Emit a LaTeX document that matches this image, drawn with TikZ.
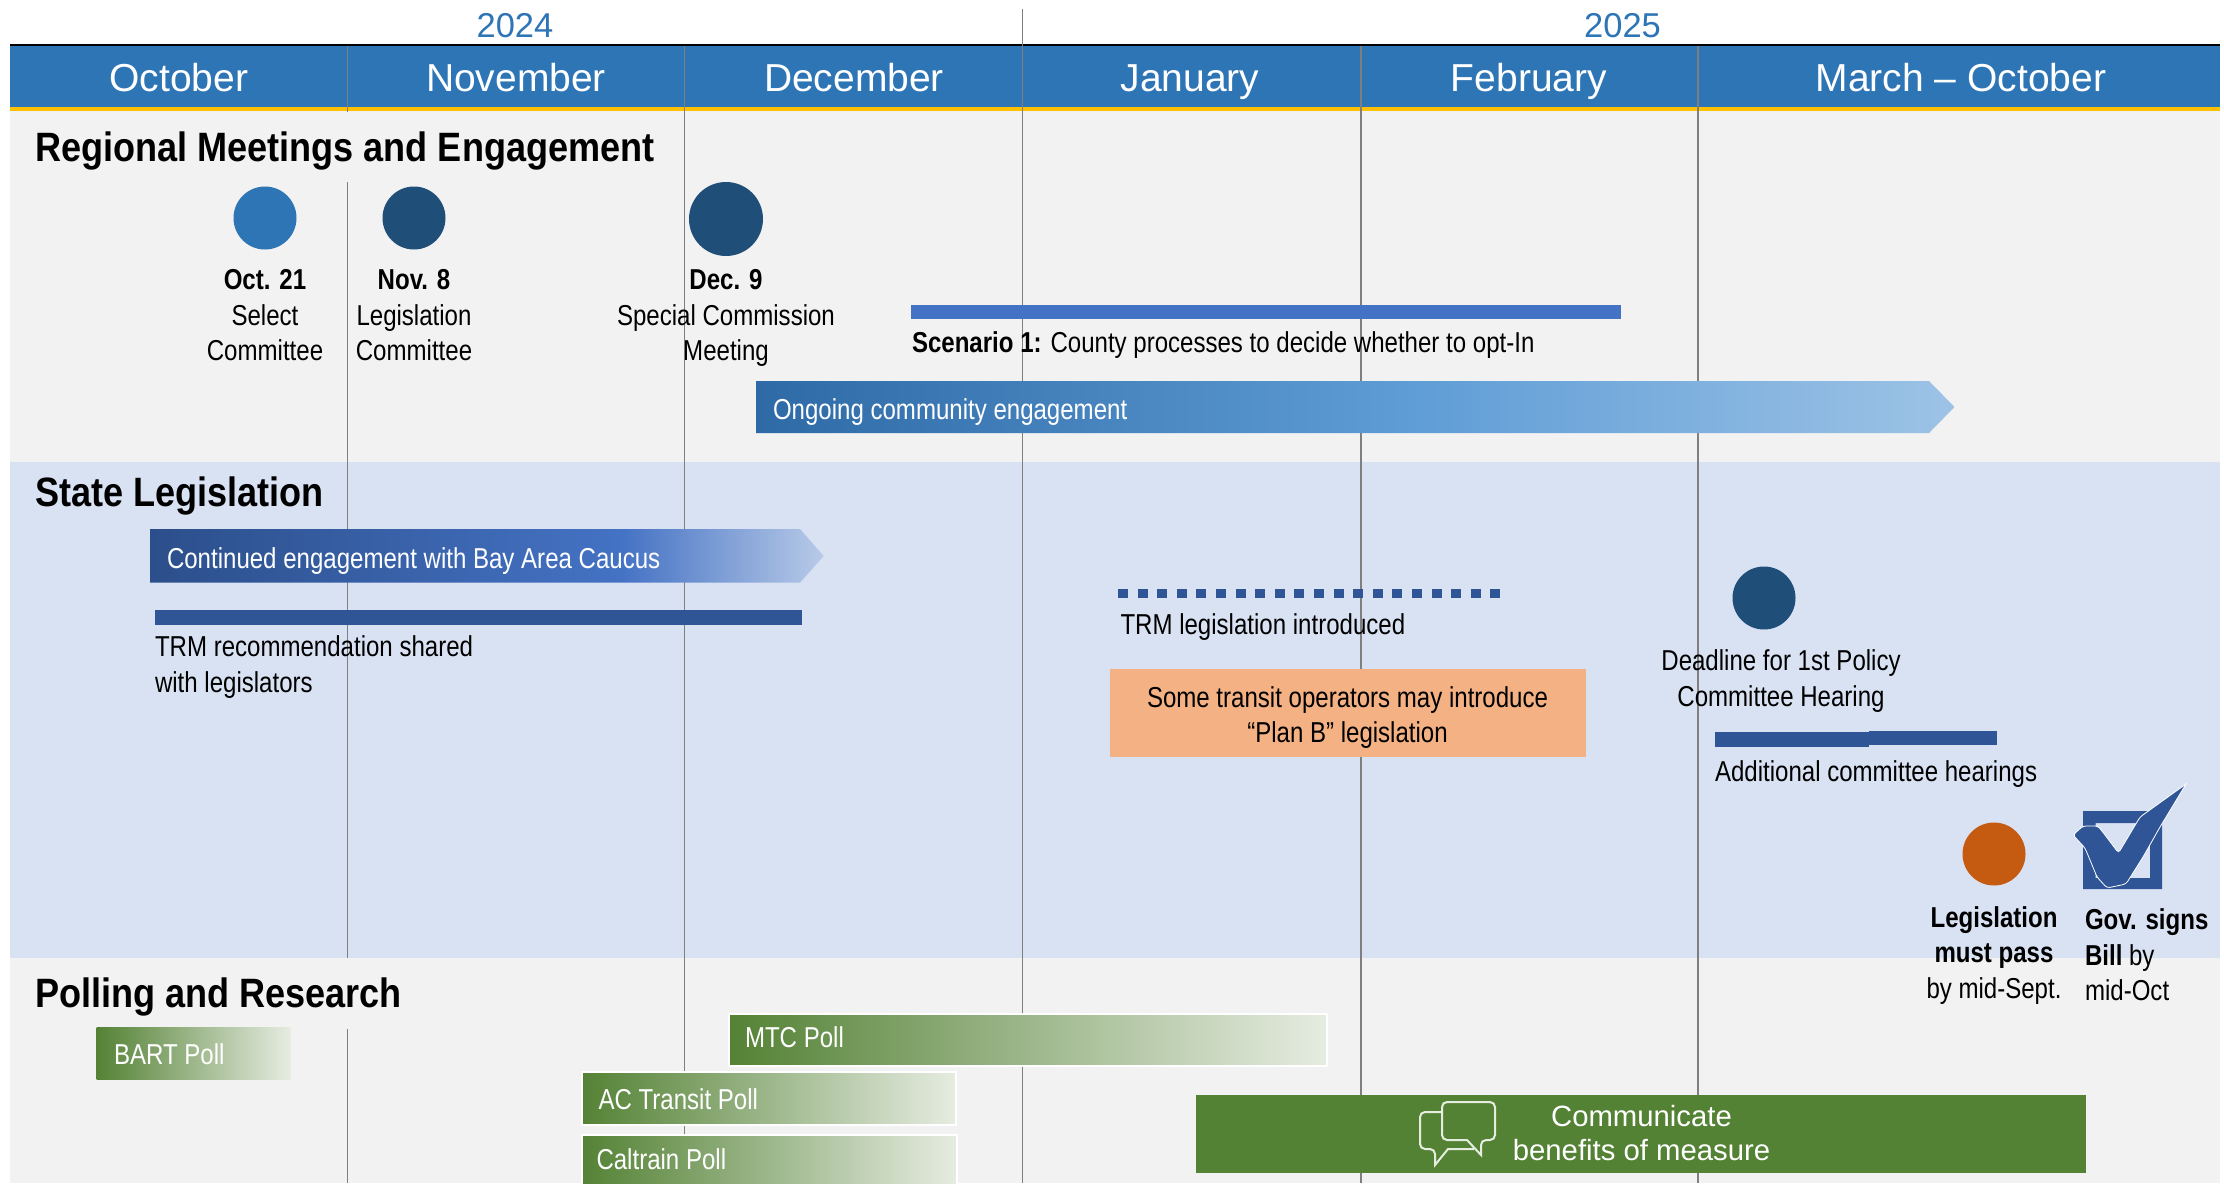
\documentclass[tikz,border=0pt]{standalone}
\usepackage{fontspec}
\setmainfont{Liberation Sans}
\newfontfamily\narrowf{Liberation Sans}[FakeStretch=0.835]
\newfontfamily\titlef{Liberation Sans}[FakeStretch=0.88]
\definecolor{panelgrey}{HTML}{F2F2F2}
\definecolor{panelblue}{HTML}{D9E2F3}
\definecolor{bandblue}{HTML}{2E75B6}
\definecolor{navy}{HTML}{1F4E79}
\definecolor{barblue}{HTML}{2F5597}
\definecolor{scenblue}{HTML}{4472C4}
\definecolor{gridgrey}{HTML}{7F7F7F}
\definecolor{peach}{HTML}{F4B183}
\definecolor{rust}{HTML}{C55A11}
\definecolor{leaf}{HTML}{548235}
\definecolor{gold}{HTML}{FFC000}
\definecolor{onA}{HTML}{2E6AA6}
\definecolor{onB}{HTML}{5F9DD6}
\definecolor{onC}{HTML}{9DC3E6}
\definecolor{caA}{HTML}{2C4F8B}
\definecolor{caB}{HTML}{4472C4}
\definecolor{caC}{HTML}{B8CAE8}
\definecolor{poB}{HTML}{E6ECE1}
\pgfdeclarehorizontalshading{ongoingshade}{100bp}{color(0bp)=(onA);color(25bp)=(onA);color(52.5bp)=(onB);color(75bp)=(onC);color(100bp)=(onC)}
\pgfdeclarehorizontalshading{caucusshade}{100bp}{color(0bp)=(caA);color(25bp)=(caA);color(60bp)=(caB);color(75bp)=(caC);color(100bp)=(caC)}
\pgfdeclarehorizontalshading{pollshade}{100bp}{color(0bp)=(leaf);color(25bp)=(leaf);color(75bp)=(poB);color(100bp)=(poB)}
\tikzset{
  x=1pt,y=-1pt,
  every node/.style={inner sep=0pt,outer sep=0pt},
  month/.style={anchor=base,text=white,font=\fontsize{39}{44}\selectfont},
  yearlabel/.style={anchor=base,text=bandblue,font=\fontsize{34.5}{40}\selectfont},
  heading/.style={anchor=base west,text=black,font=\titlef\bfseries\fontsize{41}{48}\selectfont},
  body/.style={anchor=base,align=center,text=black,font=\narrowf\fontsize{28.8}{35.5}\selectfont},
  bodyl/.style={anchor=base west,align=left,text=black,font=\narrowf\fontsize{28.8}{35.5}\selectfont},
  bartext/.style={anchor=base west,text=white,font=\narrowf\fontsize{28.8}{35.5}\selectfont},
  dot/.style={circle,minimum size=#1,fill=navy},
  grid/.style={draw=gridgrey,line width=1.8pt},
  poll/.style={shading=pollshade,draw=white,line width=2pt},
  bubble/.style={draw=white,line width=2pt,rounded corners=5pt,opacity=.85}
}
\begin{document}
\begin{tikzpicture}
\useasboundingbox (0,0) rectangle (2224,1183);
\fill[white] (0,0) rectangle (2224,1183);
% panels
\fill[panelgrey] (9.5,111) rectangle (2220,462);
\fill[panelblue] (9.5,462) rectangle (2220,958);
\fill[panelgrey] (9.5,958) rectangle (2220,1183);
% header band
\fill[black] (9.5,43.5) rectangle (2220,46);
\fill[bandblue] (9.5,46) rectangle (2220,107);
\fill[gold] (9.5,107) rectangle (2220,111);
% month grid
\coordinate (g1t) at (347.5,46);  \coordinate (g1b) at (347.5,1183);
\coordinate (g2t) at (684.5,46);  \coordinate (g2b) at (684.5,1183);
\coordinate (g3t) at (1022.5,9);  \coordinate (g3b) at (1022.5,1183);
\coordinate (g4t) at (1361,46);   \coordinate (g4b) at (1361,1183);
\coordinate (g5t) at (1698,46);   \coordinate (g5b) at (1698,1183);
\foreach \n in {1,...,5} {\draw[grid] (g\n t) -- (g\n b);}
% heading masks over the grid
\fill[panelgrey] (20,111.8) rectangle (660,182);
\fill[panelgrey] (17,958) rectangle (435,1029);
% headings
\node[heading] (hRegional) at (35,161.5) {Regional Meetings and Engagement};
\node[heading] (hState) at (35,506) {State Legislation};
\node[heading] (hPoll) at (35,1007.5) {Polling and Research};
% years and months
\node[yearlabel] (y24) at (515,37) {2024};
\node[yearlabel] (y25) at (1622.5,37) {2025};
\node[month] (mOct) at (178.7,91.5) {October};
\node[month] (mNov) at (516,91.5) {November};
\node[month] (mDec) at (854,91.5) {December};
\node[month] (mJan) at (1190,91.5) {January};
\node[month] (mFeb) at (1529,91.5) {February};
\node[month] (mMar) at (1961,91.5) {March – October};
% regional meetings
\node[dot=63pt,fill=bandblue] (cOct) at (265,218) {};
\node[dot=63pt] (cNov) at (414,218) {};
\node[dot=74pt] (cDec) at (726,219) {};
\node[body] (tOct) at (265,360.5) {\textbf{Oct. 21}\\Select\\Committee};
\node[body] (tNov) at (414,360.5) {\textbf{Nov. 8}\\Legislation\\Committee};
\node[body] (tDec) at (726,360.5) {\textbf{Dec. 9}\\Special Commission\\Meeting};
\fill[scenblue] (911,305) rectangle (1621,319);
\node[bodyl] (tScen) at (912,352.7) {\textbf{Scenario 1:} County processes to decide whether to opt-In};
\shade[shading=ongoingshade] (756,381) -- (1929,381) -- (1954.5,407) -- (1929,433) -- (756,433) -- cycle;
\node[bartext] (tOngoing) at (773,419) {Ongoing community engagement};
% state legislation
\shade[shading=caucusshade] (150,529) -- (800,529) -- (823.7,556) -- (800,582.6) -- (150,582.6) -- cycle;
\node[bartext] (tCaucus) at (167,568) {Continued engagement with Bay Area Caucus};
\fill[barblue] (154.6,610) rectangle (802,625);
\node[bodyl] (tShared) at (155,692) {TRM recommendation shared\\with legislators};
\coordinate (dotsL) at (1118,593.3);
\coordinate (dotsR) at (1501.6,593.3);
\draw[barblue,line width=9.5pt,dash pattern=on 10pt off 9.6pt] (dotsL) -- (dotsR);
\node[bodyl] (tIntro) at (1120.5,634.7) {TRM legislation introduced};
\node[fill=peach,minimum width=476pt,minimum height=88.5pt] (boxB) at (1348,713.2) {};
\node[body] (tPlanB) at (1347.5,742.5) {Some transit operators may introduce\\“Plan B” legislation};
\node[dot=63pt] (cDead) at (1764,598) {};
\node[body] (tDead) at (1781,706) {Deadline for 1st Policy\\Committee Hearing};
\fill[barblue] (1715,731.6) rectangle (1869,746.7);
\fill[barblue] (1869,731) rectangle (1997,745);
\node[bodyl] (tHear) at (1715,781.7) {Additional committee hearings};
\node[dot=63pt,fill=rust] (cPass) at (1994,854) {};
\node[body] (tPass) at (1994,998) {\textbf{Legislation}\\\textbf{must pass}\\by mid-Sept.};
% check box
\fill[barblue,even odd rule] (2083,811) rectangle (2162,889) (2095.6,823) rectangle (2150,878);
\draw[fill=barblue,draw=white,line width=.8pt,rounded corners=3pt]
  (2073,835) -- (2083,826) -- (2098,826) -- (2106.5,837) -- (2118.5,853) -- (2140,817)
  [sharp corners] -- (2186,784) [rounded corners=3pt] -- (2160,827) -- (2143,857) -- (2126,884)
  -- (2107,888) -- (2097,877) -- (2085,848) -- cycle;
\node[bodyl] (tGov) at (2085,1000.5) {\textbf{Gov. signs}\\\textbf{Bill} by\\mid-Oct};
% polling
\shade[shading=pollshade] (96.5,1027) rectangle (290.8,1079);
\node[bartext] (tBart) at (114,1064.6) {BART Poll};
\shade[poll] (729,1014.4) rectangle (1327,1065.5);
\node[bartext] (tMtc) at (745,1047.6) {MTC Poll};
\shade[poll] (581.5,1072) rectangle (956,1124.5);
\node[bartext] (tAc) at (598.5,1109) {AC Transit Poll};
\shade[poll] (581.5,1135) rectangle (957.4,1190);
\node[bartext] (tCal) at (596.5,1169.7) {Caltrain Poll};
% communicate
\node[fill=leaf,minimum width=890pt,minimum height=77.6pt] (boxComm) at (1641.4,1133.8) {};
\node[anchor=base,align=center,text=white,font=\fontsize{29.3}{34}\selectfont] (tComm) at (1641.5,1160) {Communicate\\benefits of measure};
\draw[bubble] (1442,1102) -- (1495,1102) -- (1495,1140) -- (1481,1140) [sharp corners] -- (1481,1155) -- (1467,1140) [rounded corners=5pt] -- (1442,1140) -- cycle;
\draw[bubble] (1442,1112) -- (1420,1112) -- (1420,1149) -- (1435,1149) [sharp corners] -- (1435,1165) -- (1448,1149) -- (1474,1149);
\end{tikzpicture}
\end{document}
